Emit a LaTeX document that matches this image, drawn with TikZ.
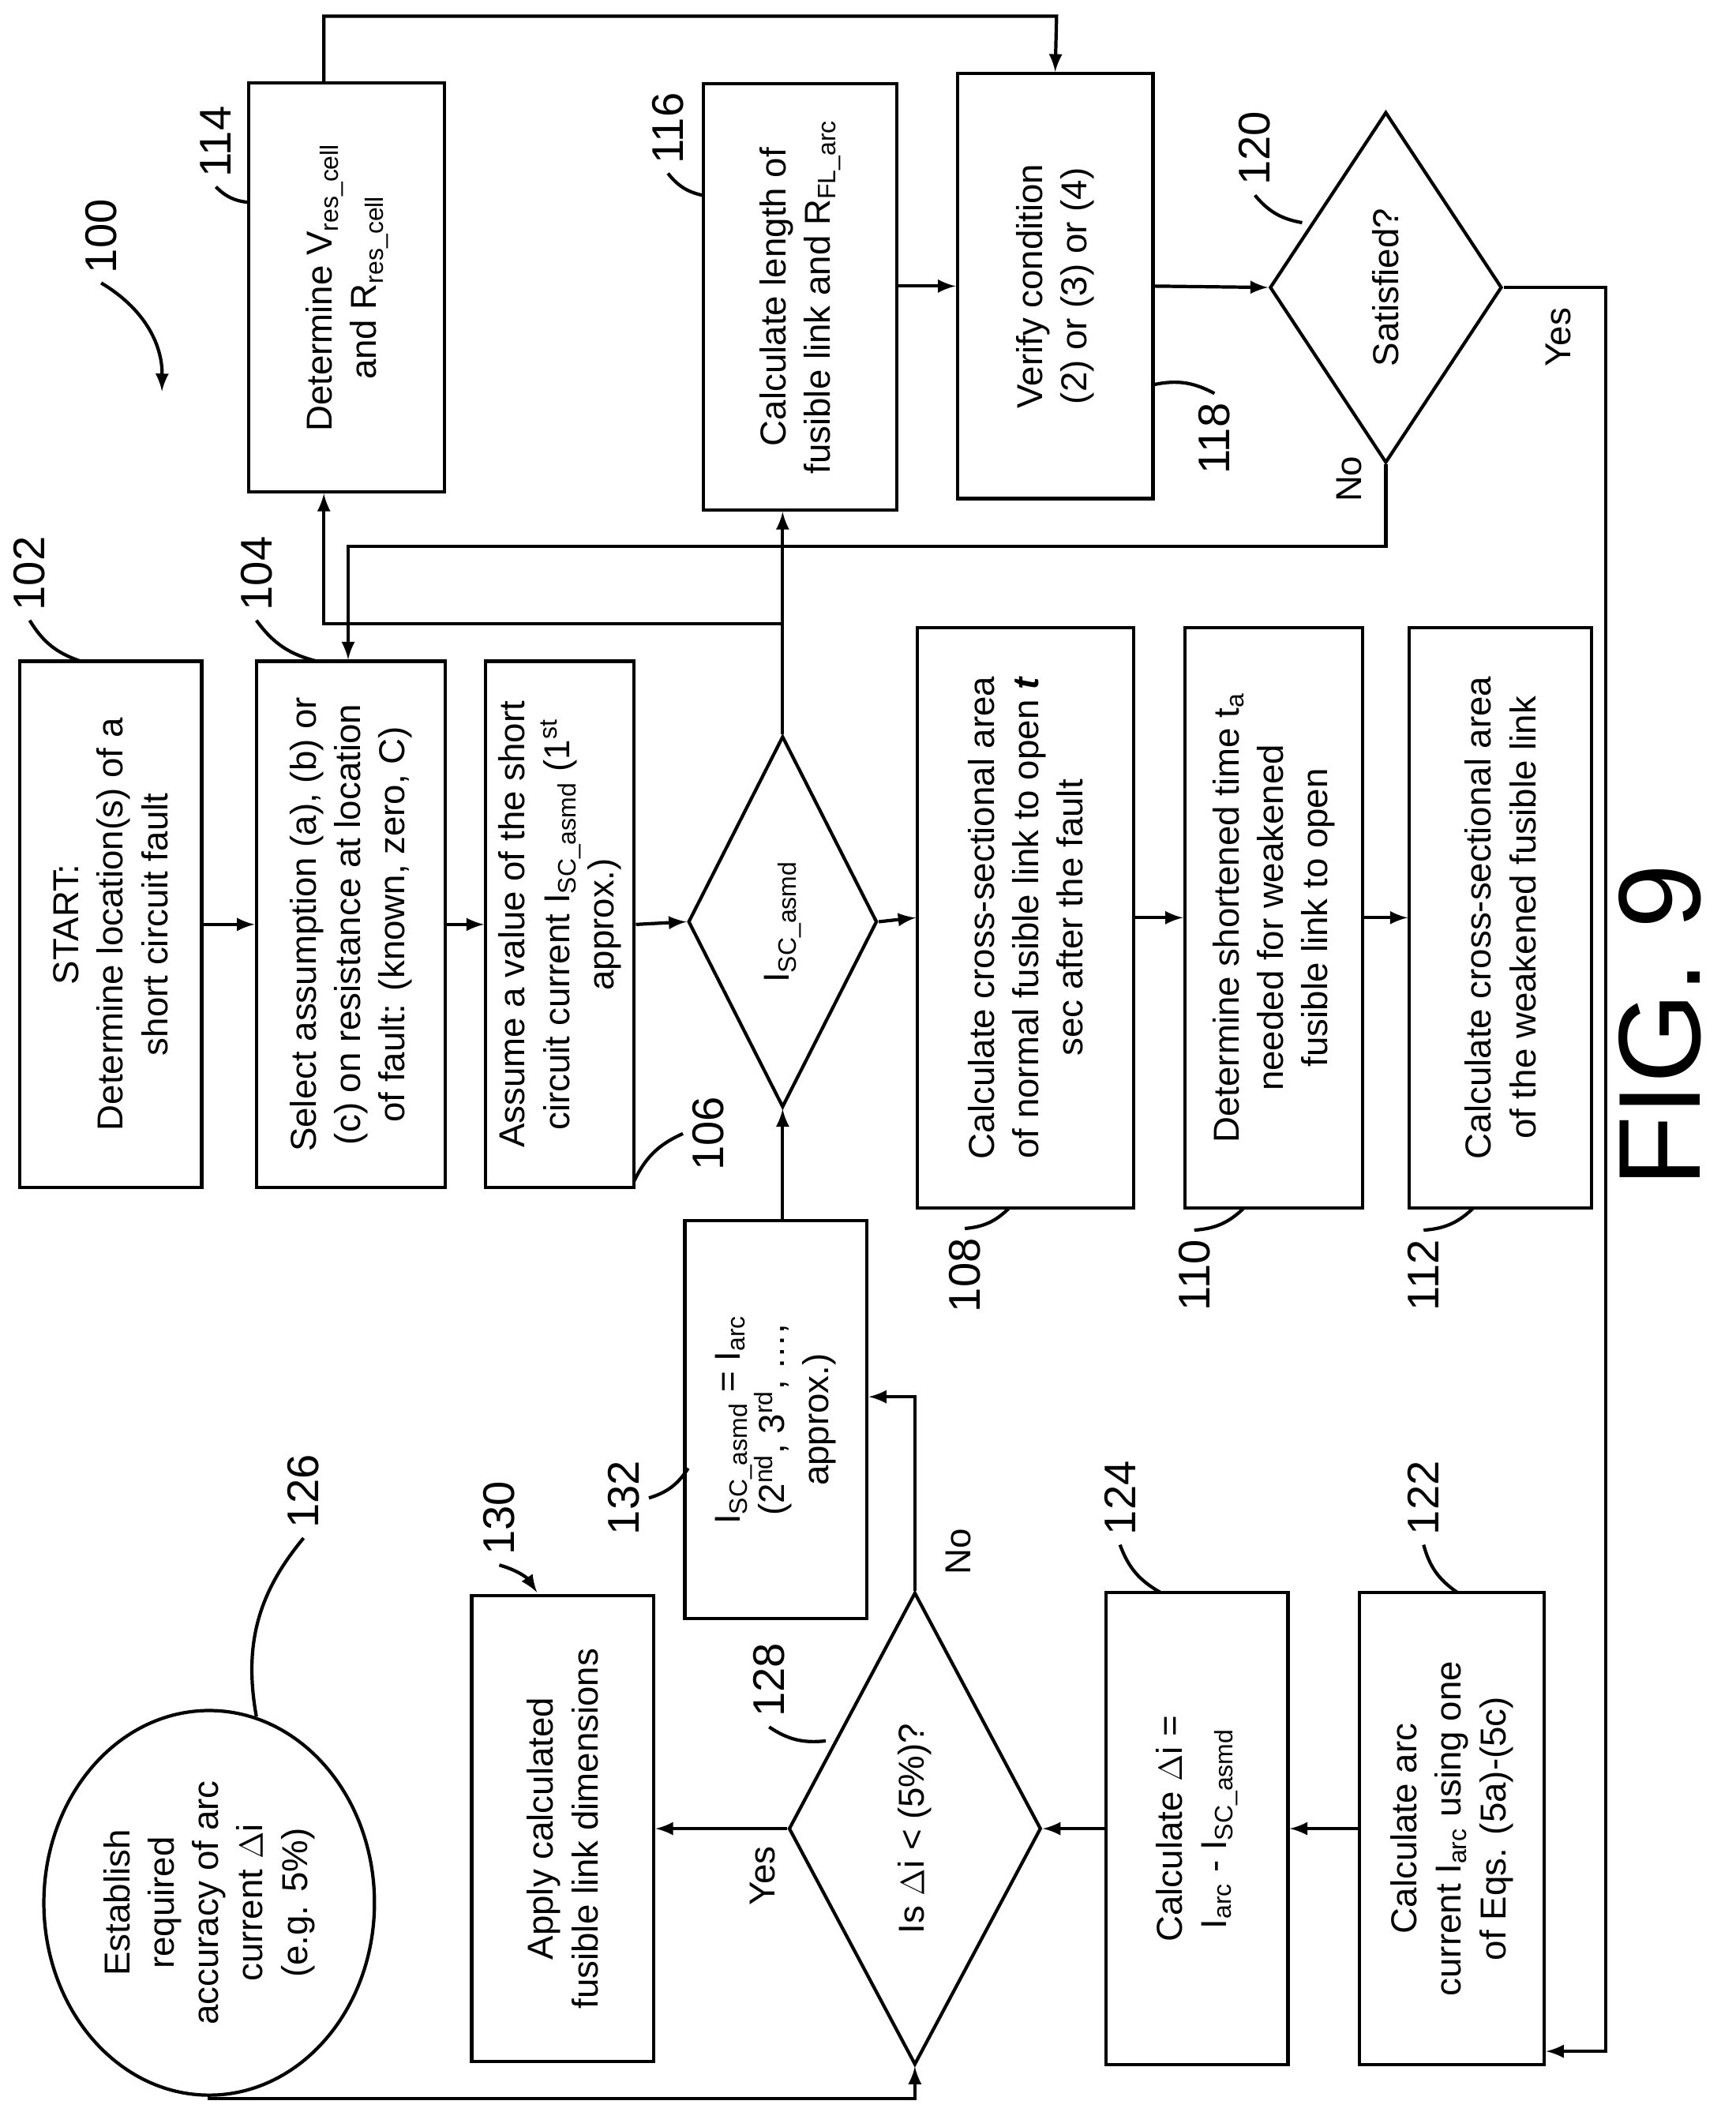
\documentclass[tikz,border=0pt]{standalone}
\usepackage{fontspec}
\setmainfont{Liberation Sans}
\usetikzlibrary{arrows}
\usetikzlibrary{shapes.geometric}
\newcommand{\ux}{0.0171cm}
\tikzset{
	box/.style={draw, line width=1.2pt, rotate=90, align=center, inner sep=2pt, font=\fontsize{13}{16}\selectfont},
	dia/.style={draw, line width=1.2pt, diamond, rotate=90, align=center, inner sep=0pt, font=\fontsize{13}{16}\selectfont},
	ref/.style={rotate=90, font=\fontsize{16}{19}\selectfont},
	yn/.style={rotate=90, font=\fontsize{13}{16}\selectfont},
	flow/.style={line width=1.2pt, -latex},
	lead/.style={line width=1.2pt}
}
\begin{document}
\begin{tikzpicture}[x=\ux, y=-\ux]
	\useasboundingbox (0,0) rectangle (1286,1565);

	% upper row of boxes
	\node[box, minimum width=390*\ux, minimum height=135*\ux] (n102) at (82,685) {START:\\Determine location(s) of a\\short circuit fault};
	\node[box, minimum width=390*\ux, minimum height=140*\ux] (n104) at (260,685) {Select assumption (a), (b) or\\(c) on resistance at location\\of fault: (known, zero, C)};
	\node[box, minimum width=390*\ux, minimum height=110*\ux] (n106) at (415,685) {Assume a value of the short\\circuit current I\textsubscript{SC\_asmd} (1\textsuperscript{st}\\approx.)};
	\node[dia, minimum width=275*\ux, minimum height=140*\ux] (d1) at (580,683) {I\textsubscript{SC\_asmd}};
	\node[box, minimum width=430*\ux, minimum height=160*\ux] (n108) at (760,680) {Calculate cross-sectional area\\of normal fusible link to open \textbf{\textit{t}}\\sec after the fault};
	\node[box, minimum width=430*\ux, minimum height=132*\ux] (n110) at (944,680) {Determine shortened time t\textsubscript{a}\\needed for weakened\\fusible link to open};
	\node[box, minimum width=430*\ux, minimum height=135*\ux] (n112) at (1112,680) {Calculate cross-sectional area\\of the weakened fusible link};

	% top row
	\node[box, minimum width=303*\ux, minimum height=145*\ux] (n114) at (257,213) {Determine V\textsubscript{res\_cell}\\and R\textsubscript{res\_cell}};
	\node[box, minimum width=316*\ux, minimum height=143*\ux] (n116) at (593,220) {Calculate length of\\fusible link and R\textsubscript{FL\_arc}};
	\node[box, minimum width=315*\ux, minimum height=145*\ux] (n118) at (782,212) {Verify condition\\(2) or (3) or (4)};
	\node[dia, minimum width=260*\ux, minimum height=172*\ux] (d2) at (1027,213) {Satisfied?};

	% bottom row
	\node[box, minimum width=295*\ux, minimum height=135*\ux] (n132) at (575,1052) {I\textsubscript{SC\_asmd} = I\textsubscript{arc}\\(2\textsuperscript{nd}, 3\textsuperscript{rd}, \dots,\\approx.)};
	\node[box, minimum width=345*\ux, minimum height=135*\ux] (n130) at (417,1355) {Apply calculated\\fusible link dimensions};
	\node[dia, minimum width=350*\ux, minimum height=187*\ux] (d3) at (678,1355) {Is $\Delta$i < (5\%)?};
	\node[box, minimum width=350*\ux, minimum height=135*\ux] (n124) at (887,1355) {Calculate $\Delta$i =\\I\textsubscript{arc} - I\textsubscript{SC\_asmd}};
	\node[box, minimum width=350*\ux, minimum height=137*\ux] (n122) at (1076,1355) {Calculate arc\\current I\textsubscript{arc} using one\\of Eqs. (5a)-(5c)};
	\node[ellipse, draw, line width=1.2pt, rotate=90, align=center, inner sep=0pt, minimum width=285*\ux, minimum height=245*\ux, font=\fontsize{13}{16}\selectfont] (e126) at (155,1410) {Establish\\required\\accuracy of arc\\current $\Delta$i\\(e.g. 5\%)};

	\node[rotate=90, font=\fontsize{42}{46}\selectfont] (fig) at (1230,760) {FIG. 9};

	% flow arrows
	\draw[flow] (n102.south) -- (n104.north);
	\draw[flow] (n104.south) -- (n106.north);
	\draw[flow] (n106.south) -- (d1.north);
	\draw[flow] (d1.south) -- (n108.north);
	\draw[flow] (n108.south) -- (n110.north);
	\draw[flow] (n110.south) -- (n112.north);
	\draw[flow] (n132.east -| d1.east) -- (d1.west);
	\coordinate (split) at (580,462);
	\draw[line width=1.2pt] (d1.east) -- (split);
	\draw[flow] (split) -- (n116.west -| split);
	\draw[flow] (split) -| (n114.west -| 240,0);
	\draw[flow] (n114.east -| 240,0) |- (783,12) -- (n118.east);
	\draw[flow] (n116.south |- n118.north) -- (n118.north);
	\draw[flow] (n118.south) -- (d2.north);
	\draw[flow] (d2.west) |- (258,405) -- (n104.east -| 258,0);
	\draw[flow] (d2.south) -| (1190,1520) -- (n122.south |- 0,1520);
	\draw[flow] (n122.north) -- (n124.south);
	\draw[flow] (n124.north) -- (d3.south);
	\draw[flow] (d3.north) -- (n130.south);
	\draw[flow] (d3.east) |- (n132.south |- 0,1035);
	\draw[flow] (e126.west) |- (678,1555) -- (d3.west);

	% yes / no labels
	\node[yn] (no1) at (1000,355) {No};
	\node[yn] (yes1) at (1155,250) {Yes};
	\node[yn] (yes2) at (565,1390) {Yes};
	\node[yn] (no2) at (710,1150) {No};

	% reference numerals
	\node[ref] (r100) at (75,175) {100};
	\draw[lead, -latex] (r100.west) to[bend left=30] (120,290);
	\node[ref] (r102) at (22,425) {102};
	\draw[lead] (r102.west) to[bend right=20] (60,490);
	\node[ref] (r104) at (190,425) {104};
	\draw[lead] (r104.west) to[bend right=20] (235,490);
	\node[ref] (r106) at (525,840) {106};
	\draw[lead] (r106.north) to[bend right=20] (470,875);
	\node[ref] (r108) at (715,945) {108};
	\draw[lead] (r108.east) to[bend right=20] (748,895);
	\node[ref] (r110) at (885,945) {110};
	\draw[lead] (r110.east) to[bend right=20] (922,895);
	\node[ref] (r112) at (1055,945) {112};
	\draw[lead] (r112.east) to[bend right=20] (1092,895);
	\node[ref] (r114) at (160,105) {114};
	\draw[lead] (r114.west) to[bend right=20] (185,150);
	\node[ref] (r116) at (495,95) {116};
	\draw[lead] (r116.west) to[bend right=20] (522,145);
	\node[ref] (r118) at (900,325) {118};
	\draw[lead] (r118.east) to[bend right=20] (855,285);
	\node[ref] (r120) at (930,110) {120};
	\draw[lead] (r120.west) to[bend right=20] (965,165);
	\node[ref] (r122) at (1055,1110) {122};
	\draw[lead] (r122.west) to[bend right=20] (1080,1180);
	\node[ref] (r124) at (830,1110) {124};
	\draw[lead] (r124.west) to[bend right=20] (860,1180);
	\node[ref] (r126) at (225,1105) {126};
	\draw[lead] (r126.west) to[bend right=25] (190,1272);
	\node[ref] (r128) at (570,1245) {128};
	\draw[lead] (r128.west) to[bend right=20] (612,1290);
	\node[ref] (r130) at (370,1125) {130};
	\draw[lead, -latex] (r130.west) to[bend left=20] (398,1180);
	\node[ref] (r132) at (462,1110) {132};
	\draw[lead] (r132.south) to[bend right=20] (510,1088);

\end{tikzpicture}
\end{document}
